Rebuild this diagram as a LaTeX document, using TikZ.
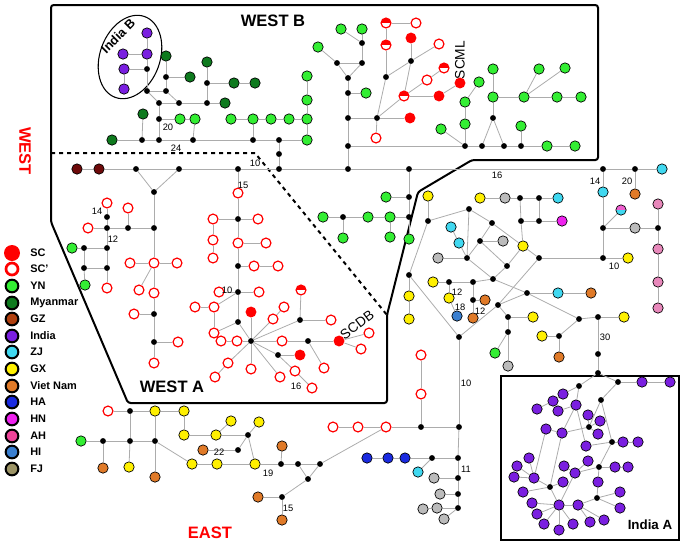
\documentclass[tikz,border=0pt]{standalone}
\usepackage{fontspec}
\setmainfont{Liberation Sans}
\usetikzlibrary{shapes.geometric}

\definecolor{ync}{HTML}{33EE33}
\definecolor{mmc}{HTML}{0E7A1E}
\definecolor{gzc}{HTML}{6E0A0A}
\definecolor{gzkey}{HTML}{B0400F}
\definecolor{indc}{HTML}{7A1FE0}
\definecolor{zjc}{HTML}{40D8F0}
\definecolor{gxc}{HTML}{FFF000}
\definecolor{vnc}{HTML}{E07A28}
\definecolor{hac}{HTML}{1A2AE0}
\definecolor{hnc}{HTML}{EE22EE}
\definecolor{ahc}{HTML}{E888BB}
\definecolor{ahkey}{HTML}{EE4499}
\definecolor{hic}{HTML}{3A7FD0}
\definecolor{fjc}{HTML}{BBBBBB}
\definecolor{fjkey}{HTML}{9C9466}

\begin{document}
\begin{tikzpicture}[x=0.75pt,y=-0.75pt,
    vertex/.style={circle,draw=black,line width=0.5pt,inner sep=0pt,minimum size=7.8pt},
    dot/.style={circle,fill=black,inner sep=0pt,minimum size=4.4pt},
    sc/.style={circle,fill=red,inner sep=0pt,minimum size=8.2pt},
    scp/.style={circle,draw=red,fill=white,line width=0.9pt,inner sep=0pt,minimum size=7.4pt},
    half/.style={scp,path picture={\fill[red] (path picture bounding box.west) rectangle (path picture bounding box.north east);}},
    split/.style={vertex,path picture={\fill[ahc!70!magenta] (path picture bounding box.west) rectangle (path picture bounding box.north east);
        \fill[zjc] (path picture bounding box.west) rectangle (path picture bounding box.south east);}},
    keydot/.style={circle,draw=black,line width=1.5pt,inner sep=0pt,minimum size=9.5pt},
    link/.style={draw=gray!65,line width=0.6pt},
    frame/.style={draw=black,line width=1.5pt},
    num/.style={font=\fontsize{7}{8}\selectfont,inner sep=0pt},
    tag/.style={font=\fontsize{10.3}{12}\selectfont,inner sep=0pt},
    title/.style={font=\bfseries\fontsize{12.4}{14}\selectfont,inner sep=0pt},
    keytext/.style={anchor=west,font=\bfseries\fontsize{8.2}{9}\selectfont,inner sep=0pt}]
\useasboundingbox (0,0) rectangle (682,544);

% regions
\draw[frame,rounded corners=2pt] (51,5) -- (598,5) -- (598,160) -- (472,160) -- (418,192) -- (387,315)
    -- (387,403) -- (128,403) -- (51,222) -- cycle;
\draw[frame,dashed] (51,153) -- (255,153) -- (387,315);
\draw[draw=black,line width=1pt] (501,376) rectangle (679,540);
\node[draw,ellipse,line width=0.8pt,inner sep=0pt,minimum width=45pt,minimum height=64.5pt,rotate=-20] (ovalb) at (130,57) {};

% haplotypes
\foreach \x/\y in {147/69,147/91,166/91,166/77,159/103,179/103,207/103,207/83,159/119,159/140,142/140,193/140,
    253/140,279/140,279/154,279/169,337/63,362/43,362/63,348/78,348/93,348/118,377/118,348/146,348/169,386/77,
    411/61,465/146,482/146,504/146,521/146,493/118,136/169,179/169,238/169,409/169,603/169,635/169,
    154/192,154/228,128/228,107/228,107/217,107/248,84/248,84/268,107/268,154/314,154/342,238/219,238/266,
    238/292,238/322,251/341,300/320,308/341,278/355,409/197,409/217,343/217,
    428/221,469/209,492/223,480/241,467/258,507/266,539/258,493/279,520/198,539/198,521/221,539/221,409/275,
    449/282,473/282,473/300,498/305,459/337,527/293,508/317,508/332,579/319,598/317,559/336,598/354,598/373,
    603/228,658/228,603/258,130/411,103/441,130/441,155/441,248/435,238/450,281/464,298/464,320/464,308/479,
    282/497,421/427,459/427,432/458,458/458,458/478,458/494,458/508,
    618/382,579/386,601/400,589/427,612/442,599/467,550/487,597/498}
    \node[dot] (n\x-\y) at (\x,\y) {};
\foreach \x/\y in {410/118,411/38,439/96,460/83,251/312,339/341,300/355}
    \node[sc] (n\x-\y) at (\x,\y) {};
\foreach \x/\y in {386/23,386/45,444/68,404/96,301/290}
    \node[half] (n\x-\y) at (\x,\y) {};
\foreach \x/\y in {376/138,416/23,439/44,427/80,238/193,107/203,128/208,88/228,107/288,130/263,154/263,177/263,
    139/290,154/293,134/314,178/342,154/363,213/219,258/219,213/240,213/258,238/243,266/243,254/266,278/266,
    259/292,219/292,214/307,195/307,214/333,221/341,237/341,273/319,284/307,331/320,282/341,369/333,361/349,
    324/368,295/371,312/388,280/377,251/369,228/363,215/377,108/411,421/355,421/394,386/427,358/427,333/427}
    \node[scp] (n\x-\y) at (\x,\y) {};
\foreach \x/\y in {180/119,195/119,231/119,253/119,271/119,289/119,307/119,307/76,307/100,307/140,318/47,
    341/29,362/29,366/93,479/82,465/102,465/124,441/129,547/146,575/146,521/126,493/97,493/69,524/97,539/69,
    565/68,557/97,581/97,72/248,85/285,386/197,323/217,368/217,390/217,343/238,390/237,409/239,495/353,81/441}
    \node[vertex,fill=ync] (n\x-\y) at (\x,\y) {};
\foreach \x/\y in {166/56,190/77,207/62,234/83,255/83,225/103,143/114,112/140}
    \node[vertex,fill=mmc] (n\x-\y) at (\x,\y) {};
\foreach \x/\y in {77/169,99/169}
    \node[vertex,fill=gzc] (n\x-\y) at (\x,\y) {};
\foreach \x/\y in {147/33,123/54,147/54,124/69,124/89,642/382,670/382,563/394,553/401,537/409,558/411,
    576/405,588/415,600/421,598/434,546/429,562/433,623/442,638/442,586/446,529/458,517/466,514/477,534/478,
    564/466,588/461,615/467,628/467,575/473,563/482,598/482,523/492,620/492,532/503,559/505,578/505,620/508,
    537/514,544/524,559/530,573/524,590/522,604/520}
    \node[vertex,fill=indc] (n\x-\y) at (\x,\y) {};
\foreach \x/\y in {662/169,603/192,451/227,459/243,558/198,558/293,418/472}
    \node[vertex,fill=zjc] (n\x-\y) at (\x,\y) {};
\foreach \x/\y in {428/196,523/246,480/198,409/296,409/319,433/282,449/298,533/317,624/317,542/336,628/258,
    155/411,184/411,184/435,216/435,231/421,259/422,192/464,217/464,255/464,129/467}
    \node[vertex,fill=gxc] (n\x-\y) at (\x,\y) {};
\foreach \x/\y in {635/194,485/300,473/318,591/293,559/357,103/468,155/477,203/450,282/446,258/497,282/520}
    \node[vertex,fill=vnc] (n\x-\y) at (\x,\y) {};
\foreach \x/\y in {367/458,388/458,405/458}
    \node[vertex,fill=hac] (n\x-\y) at (\x,\y) {};
\node[vertex,fill=hnc] (n562-221) at (562,221) {};
\foreach \x/\y in {658/204,658/249,658/282,658/308}
    \node[vertex,fill=ahc] (n\x-\y) at (\x,\y) {};
\node[vertex,fill=hic] (n457-316) at (457,316) {};
\foreach \x/\y in {503/241,438/258,505/198,508/366,635/228,434/478,440/494,437/508,423/509,444/519}
    \node[vertex,fill=fjc] (n\x-\y) at (\x,\y) {};
\node[split] (n621-210) at (621,210) {};

% mutational links
\foreach \a/\b in {147-33/147-54,123-54/147-54,147-54/147-69,124-69/147-69,124-69/124-89,147-69/147-91,
    147-91/166-91,147-91/159-103,166-91/166-77,166-77/166-56,166-77/190-77,166-91/179-103,159-103/179-103,
    179-103/207-103,207-103/225-103,207-103/207-83,207-83/207-62,207-83/234-83,234-83/255-83,159-103/159-119,
    159-119/180-119,180-119/195-119,159-119/159-140,112-140/142-140,142-140/159-140,159-140/193-140,
    193-140/253-140,253-140/279-140,279-140/307-140,142-140/143-114,193-140/195-119,253-140/253-119,
    231-119/253-119,253-119/271-119,271-119/289-119,289-119/307-119,307-119/307-140,307-119/307-100,
    307-100/307-76,279-140/279-154,279-154/279-169,
    362-29/362-43,341-29/362-43,362-43/362-63,318-47/337-63,337-63/362-63,337-63/348-78,362-63/348-78,
    348-78/348-93,348-93/366-93,348-93/348-118,348-118/348-146,348-146/348-169,348-118/377-118,377-118/410-118,
    377-118/376-138,377-118/386-77,386-77/386-45,386-45/386-23,386-23/416-23,386-77/411-61,411-61/411-38,
    411-61/439-44,411-61/404-96,377-118/404-96,404-96/427-80,427-80/444-68,404-96/439-96,439-96/460-83,
    348-146/465-146,465-146/482-146,482-146/504-146,504-146/521-146,521-146/547-146,547-146/575-146,
    465-146/465-124,465-124/465-102,465-102/479-82,441-129/465-146,482-146/493-118,504-146/493-118,
    493-118/493-97,493-97/493-69,493-97/524-97,524-97/557-97,557-97/581-97,524-97/539-69,524-97/565-68,
    521-146/521-126,
    77-169/99-169,99-169/136-169,136-169/179-169,179-169/238-169,238-169/279-169,279-169/348-169,
    348-169/409-169,409-169/603-169,603-169/635-169,635-169/662-169,603-169/603-192,635-169/635-194,
    136-169/154-192,179-169/154-192,154-192/154-228,154-228/154-263,154-263/154-293,154-293/154-314,
    154-314/154-342,154-342/154-363,128-228/154-228,107-228/128-228,128-228/128-208,88-228/107-228,
    107-228/107-217,107-217/107-203,107-228/107-248,107-248/107-268,107-268/107-288,84-248/107-248,
    72-248/84-248,84-248/84-268,84-268/85-285,84-268/107-268,130-263/154-263,154-263/177-263,154-263/139-290,
    134-314/154-314,154-342/178-342,
    238-169/238-193,238-193/238-219,238-219/238-243,238-243/238-266,238-266/238-292,238-292/238-322,
    238-322/251-341,213-219/238-219,238-219/258-219,213-219/213-240,213-240/213-258,238-243/266-243,
    238-266/254-266,254-266/278-266,219-292/238-292,238-292/259-292,238-292/214-307,195-307/214-307,
    214-307/214-333,214-333/238-322,251-341/237-341,237-341/221-341,251-341/251-312,251-341/273-319,
    273-319/284-307,251-341/300-320,300-320/301-290,300-320/331-320,251-341/282-341,282-341/308-341,
    308-341/339-341,308-341/324-368,339-341/369-333,339-341/361-349,251-341/278-355,278-355/300-355,
    278-355/295-371,295-371/312-388,251-341/280-377,251-341/251-369,251-341/228-363,228-363/215-377,
    409-169/409-197,409-197/409-217,409-217/409-239,386-197/409-197,390-217/409-217,368-217/390-217,
    343-217/368-217,323-217/343-217,343-217/343-238,390-217/390-237}
    \draw[link] (n\a) -- (n\b);
\foreach \a/\b in {428-196/428-221,428-221/469-209,469-209/467-258,469-209/492-223,492-223/523-246,
    492-223/480-241,480-241/503-241,480-241/467-258,480-241/507-266,451-227/459-243,459-243/467-258,
    438-258/467-258,467-258/493-279,507-266/493-279,507-266/523-246,523-246/521-221,523-246/539-258,
    539-258/498-305,539-258/603-258,493-279/527-293,527-293/579-319,493-279/473-282,473-282/449-282,
    449-282/433-282,449-282/449-298,449-298/457-316,473-282/473-300,473-300/485-300,473-300/473-318,
    527-293/558-293,558-293/591-293,527-293/498-305,498-305/459-337,459-337/409-275,409-275/428-221,
    409-275/409-296,409-296/409-319,498-305/508-317,508-317/533-317,508-317/508-332,508-332/495-353,
    508-332/508-366,579-319/598-317,598-317/624-317,579-319/559-336,542-336/559-336,559-336/559-357,
    598-317/598-354,598-354/598-373,480-198/505-198,505-198/520-198,520-198/539-198,539-198/558-198,
    520-198/521-221,521-221/539-221,539-221/562-221,539-198/539-221,603-192/603-228,603-228/621-210,
    603-228/635-228,635-228/658-228,658-204/658-228,658-228/658-249,658-249/658-282,658-282/658-308,
    603-228/603-258,603-258/628-258,
    459-337/459-427,421-355/421-394,421-394/421-427,421-427/459-427,386-427/421-427,358-427/386-427,
    333-427/358-427,320-464/386-427,459-427/458-458,458-458/458-478,458-478/458-494,458-494/458-508,
    432-458/458-458,405-458/432-458,388-458/405-458,367-458/388-458,432-458/418-472,434-478/458-478,
    440-494/458-494,437-508/458-508,423-509/437-508,444-519/458-508,
    108-411/130-411,130-411/155-411,155-411/184-411,184-411/184-435,184-435/216-435,216-435/248-435,
    216-435/231-421,248-435/259-422,248-435/238-450,238-450/203-450,248-435/255-464,81-441/103-441,
    103-441/130-441,130-441/155-441,103-441/103-468,130-441/130-411,130-441/129-467,155-441/155-411,
    155-441/155-477,155-441/192-464,192-464/217-464,217-464/255-464,255-464/281-464,281-464/298-464,
    298-464/320-464,281-464/282-446,298-464/308-479,320-464/308-479,308-479/282-497,282-497/258-497,
    282-497/282-520,
    598-373/579-386,579-386/563-394,563-394/553-401,553-401/537-409,598-373/618-382,618-382/642-382,
    642-382/670-382,618-382/601-400,576-405/558-411,576-405/579-386,576-405/562-433,576-405/586-446,
    601-400/589-427,601-400/612-442,589-427/588-415,589-427/600-421,589-427/598-434,589-427/562-433,
    562-433/546-429,562-433/550-487,612-442/623-442,623-442/638-442,612-442/586-446,612-442/599-467,
    599-467/615-467,615-467/628-467,599-467/575-473,575-473/588-461,575-473/564-466,575-473/559-505,
    599-467/598-482,598-482/597-498,597-498/578-505,597-498/620-508,597-498/620-492,550-487/534-478,
    534-478/529-458,534-478/517-466,534-478/514-477,534-478/546-429,550-487/523-492,550-487/563-482,
    550-487/559-505,559-505/532-503,559-505/537-514,559-505/544-524,559-505/559-530,559-505/573-524,
    559-505/578-505,578-505/590-522,578-505/604-520}
    \draw[link] (n\a) -- (n\b);

% mutation counts
\foreach \x/\y/\t [count=\i] in {168/127/20,176/148/24,255/163/10,243/185/15,97/211/14,113/239/12,
    227/290/10,296/386/16,497/175/16,595/181/14,627/181/20,614/266/10,457/292/12,460/307/18,480/311/12,
    605/337/30,466/383/10,219/452/22,268/473/19,288/508/15,466/469/11}
    \node[num] (num\i) at (\x,\y) {\t};

% region and sample labels
\node[title] (westb) at (273,21) {WEST B};
\node[title] (westa) at (172,387) {WEST A};
\node[title,red,rotate=-90] (west) at (25,151) {WEST};
\node[title,red] (east) at (210,533) {EAST};
\node[font=\bfseries\fontsize{10}{12}\selectfont,inner sep=0pt] (inda) at (650,525) {India A};
\node[font=\bfseries\fontsize{9.5}{11}\selectfont,inner sep=0pt,rotate=45] (indb) at (118,36) {India B};
\node[tag,rotate=90] (scml) at (460,60) {SCML};
\node[tag,rotate=37] (scdb) at (357,325) {SCDB};

% legend
\node[sc,minimum size=12pt] (ksc) at (12,253) {};
\node[keytext] (tsc) at (30,253) {SC};
\node[scp,line width=2pt,minimum size=9pt] (kscp) at (12,269) {};
\node[keytext] (tscp) at (30,269) {SC'};
\foreach \n/\c/\t/\y in {yn/ync/YN/286,mm/mmc/Myanmar/303,gz/gzkey/GZ/319,ind/indc/India/336,
    zj/zjc/ZJ/352,gx/gxc/GX/369,vn/vnc/Viet Nam/386,ha/hac/HA/402,hn/hnc/HN/419,ah/ahkey/AH/436,
    hi/hic/HI/452,fj/fjkey/FJ/469}
{
    \node[keydot,fill=\c] (k\n) at (12,\y) {};
    \node[keytext] (t\n) at (30,\y) {\t};
}
\end{tikzpicture}
\end{document}
